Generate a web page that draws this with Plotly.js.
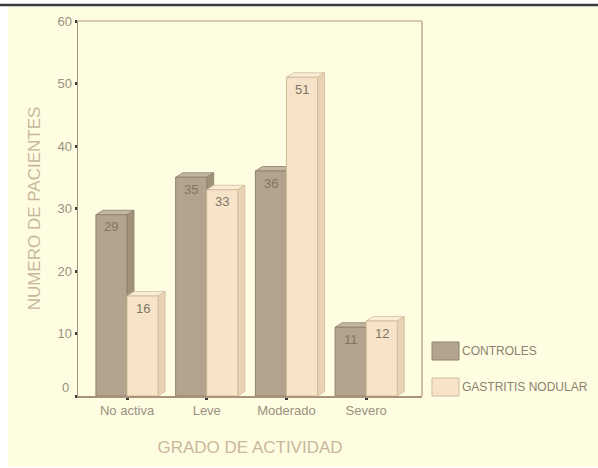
<!DOCTYPE html>
<html>
<head>
<meta charset="utf-8">
<script src="https://cdn.plot.ly/plotly-3.0.1.min.js"></script>
<style>
  html, body { margin: 0; padding: 0; background: #ffffff; }
  #chart { width: 598px; height: 468px; }
</style>
</head>
<body>
<div id="chart"></div>
<script>
// ---- data ----
const categories = ["No activa", "Leve", "Moderado", "Severo"];
const controles = [29, 35, 36, 11];
const gastritis = [16, 33, 51, 12];
const seriesNames = ["CONTROLES", "GASTRITIS NODULAR"];
const yTicks = [0, 10, 20, 30, 40, 50, 60];

// ---- styling ----
const W = 598, H = 468;
const M = { l: 78, r: 176, t: 21, b: 72 };
const plotW = W - M.l - M.r, plotH = H - M.t - M.b;
const xRange = [-0.615, 3.70], yRange = [0, 60];
const pxX = plotW / (xRange[1] - xRange[0]);
const pxY = plotH / (yRange[1] - yRange[0]);
const barW = 0.39;
const depthX = 7 / pxX, depthY = 4.5 / pxY;

const cream = "#fffde1";
const col = {
  c: { front: "#b2a48e", side: "#a09279", top: "#c3b6a0", line: "#8e8270" },
  g: { front: "#f7e4c8", side: "#e9d3b2", top: "#fbecd6", line: "#cfbd9f" }
};
const FONT = "Liberation Sans, Arial, sans-serif";

const xIdx = categories.map((_, i) => i);

function frontTrace(vals, name, offset, c) {
  return {
    type: "bar", x: xIdx, y: vals, name: name,
    offset: offset, width: barW,
    marker: { color: c.front, line: { color: c.line, width: 1 } },
    hoverinfo: "y+name", showlegend: false
  };
}
const traces = [
  frontTrace(controles, seriesNames[0], -barW, col.c),
  frontTrace(gastritis, seriesNames[1], 0, col.g)
];

// 3D faces (top and side) derived from the same values
const shapes = [];
// cream page background
shapes.push({ type: "rect", xref: "paper", yref: "paper", layer: "below",
  x0: (8 - M.l) / plotW, x1: (W - M.l) / plotW,
  y0: (M.t + plotH - 467) / plotH, y1: (M.t + plotH - 7) / plotH,
  fillcolor: cream, line: { width: 0 } });
// dark top rule
shapes.push({ type: "line", xref: "paper", yref: "paper",
  x0: -M.l / plotW, x1: (W - M.l) / plotW,
  y0: (M.t + plotH - 5) / plotH, y1: (M.t + plotH - 5) / plotH,
  line: { color: "#3a3a3a", width: 2.5 } });

function addFaces(vals, offset, c) {
  vals.forEach((v, i) => {
    const xl = i + offset, xr = xl + barW;
    shapes.push({ type: "path", xref: "x", yref: "y", layer: "below",
      path: `M${xl},${v} L${xl + depthX},${v + depthY} L${xr + depthX},${v + depthY} L${xr},${v} Z`,
      fillcolor: c.top, line: { color: c.line, width: 0.8 } });
    shapes.push({ type: "path", xref: "x", yref: "y", layer: "below",
      path: `M${xr},0 L${xr + depthX},${depthY} L${xr + depthX},${v + depthY} L${xr},${v} Z`,
      fillcolor: c.side, line: { color: c.line, width: 0.8 } });
  });
}
addFaces(controles, -barW, col.c);
addFaces(gastritis, 0, col.g);

// plot frame (top & right)
shapes.push({ type: "line", xref: "paper", yref: "paper", x0: 0, x1: 1, y0: 1, y1: 1,
  line: { color: "#dccbb0", width: 2 } });
shapes.push({ type: "line", xref: "paper", yref: "paper", x0: 1, x1: 1, y0: 0, y1: 1,
  line: { color: "#d2bfa2", width: 2 } });

// legend drawn manually
const legendItems = [
  { name: seriesNames[0], c: col.c, top: 342 },
  { name: seriesNames[1], c: col.g, top: 378 }
];
const annotations = [];
legendItems.forEach(it => {
  shapes.push({ type: "rect", xref: "paper", yref: "paper",
    x0: (432 - M.l) / plotW, x1: (459 - M.l) / plotW,
    y0: (M.t + plotH - it.top - 18) / plotH, y1: (M.t + plotH - it.top) / plotH,
    fillcolor: it.c.front, line: { color: it.c.line, width: 1 } });
  annotations.push({ xref: "paper", yref: "paper",
    x: (460 - M.l) / plotW, y: (M.t + plotH - it.top - 9) / plotH,
    xanchor: "left", yanchor: "middle", showarrow: false, text: it.name,
    font: { family: FONT, size: 12, color: "#8c8272" } });
});

// value labels inside bars
function addLabels(vals, offset) {
  vals.forEach((v, i) => {
    annotations.push({ x: i + offset + barW / 2, y: v, xref: "x", yref: "y",
      yshift: -12, showarrow: false, text: String(v),
      font: { family: FONT, size: 13, color: "#7f7666" } });
  });
}
addLabels(controles, -barW);
addLabels(gastritis, 0);

// "0" tick label sits a bit above its tick in the reference
annotations.push({ xref: "paper", yref: "paper", x: (71 - M.l) / plotW, y: 9 / plotH,
  xanchor: "right", yanchor: "middle", showarrow: false, text: String(yTicks[0]),
  font: { family: FONT, size: 13, color: "#9a9080" } });

const layout = {
  width: W, height: H,
  margin: M,
  paper_bgcolor: "#ffffff",
  plot_bgcolor: "rgba(0,0,0,0)",
  showlegend: false,
  font: { family: FONT },
  xaxis: {
    type: "linear", range: xRange, fixedrange: true,
    tickmode: "array", tickvals: xIdx, ticktext: categories,
    ticks: "outside", ticklen: 2, tickwidth: 3, tickcolor: "#3a3a3a",
    showgrid: false, zeroline: false,
    showline: true, linecolor: "#a89478", linewidth: 1.5,
    tickfont: { family: FONT, size: 13, color: "#9a9080" },
    title: { text: "GRADO DE ACTIVIDAD", standoff: 24,
      font: { family: FONT, size: 17, color: "#c9b79d" } }
  },
  yaxis: {
    range: yRange, fixedrange: true,
    tickmode: "array", tickvals: yTicks,
    ticktext: yTicks.map(v => v === 0 ? "" : String(v)),
    ticks: "outside", ticklen: 2, tickwidth: 3, tickcolor: "#3a3a3a",
    showgrid: false, zeroline: false,
    showline: true, linecolor: "#a89478", linewidth: 1.5,
    tickfont: { family: FONT, size: 13, color: "#9a9080" },
    title: { text: "NUMERO DE PACIENTES", standoff: 12,
      font: { family: FONT, size: 17, color: "#c9b79d" } }
  },
  shapes: shapes,
  annotations: annotations
};

Plotly.newPlot("chart", traces, layout, { displayModeBar: false, staticPlot: true });
</script>
</body>
</html>
